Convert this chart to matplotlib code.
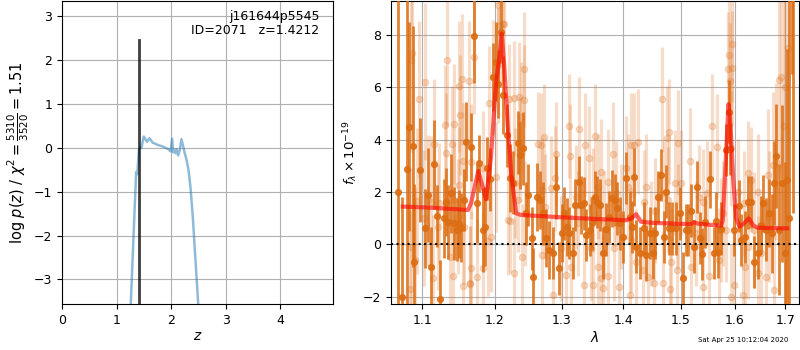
import numpy as np
import matplotlib
matplotlib.use("Agg")
import matplotlib.pyplot as plt
from matplotlib.ticker import FixedLocator, FixedFormatter, NullLocator

# ---------------- p(z) panel data ----------------
pz_z = [1.25, 1.36, 1.38, 1.41, 1.43, 1.46, 1.48, 1.50, 1.53, 1.56, 1.60, 1.63,
        1.66, 1.70, 1.75, 1.80, 1.85, 1.90, 1.95, 1.99, 2.02, 2.04, 2.06, 2.08,
        2.10, 2.13, 2.16, 2.19, 2.22, 2.25, 2.28, 2.32, 2.36, 2.40, 2.45, 2.51]
pz_logp = [-3.9, -0.55, -0.60, -0.05, 0.02, 0.00, 0.15, 0.26, 0.20, 0.14, 0.22, 0.18,
           0.12, 0.10, 0.07, 0.05, 0.03, 0.00, -0.03, -0.08, 0.21, -0.10, -0.05, -0.12,
           -0.03, -0.17, -0.05, 0.20, 0.05, -0.12, -0.25, -0.50, -0.95, -1.6, -2.6, -3.8]
z_best = 1.4212
z_best_top = 2.45
title_lines = ["j161644p5545", "ID=2071   z=1.4212"]

# ---------------- spectrum data ----------------
dark_wave = [1.0677, 1.0733, 1.0794, 1.0828, 1.0872, 1.0893, 1.0969, 1.1038, 1.1078, 1.1118,
             1.1158, 1.1190, 1.1238, 1.1292, 1.1315, 1.1346, 1.1382, 1.1427, 1.1460, 1.1491,
             1.1528, 1.1564, 1.1597, 1.1656, 1.1703, 1.1741, 1.1777, 1.1825, 1.1858, 1.1882,
             1.1929, 1.1968, 1.2011, 1.2049, 1.2088, 1.2121, 1.2180, 1.2219, 1.2259, 1.2342,
             1.2367, 1.2417, 1.2457, 1.2492, 1.2543, 1.2568, 1.2619, 1.2670, 1.2720, 1.2761,
             1.2812, 1.2865, 1.2917, 1.2953, 1.3007, 1.3043, 1.3085, 1.3122, 1.3174, 1.3217,
             1.3269, 1.3312, 1.3350, 1.3393, 1.3446, 1.3485, 1.3527, 1.3566, 1.3620, 1.3664,
             1.3713, 1.3756, 1.3812, 1.3856, 1.3896, 1.3951, 1.3996, 1.4051, 1.4119, 1.4148,
             1.4175, 1.4221, 1.4277, 1.4346, 1.4393, 1.4445, 1.4502, 1.4537, 1.4590, 1.4637,
             1.4696, 1.4726, 1.4785, 1.4846, 1.4905, 1.4984, 1.5039, 1.5088, 1.5130, 1.5180,
             1.5240, 1.5290, 1.5348, 1.5385, 1.5440, 1.5533, 1.5614, 1.5646, 1.5683, 1.5740,
             1.5834, 1.5898, 1.5917, 1.5993, 1.6089, 1.6122, 1.6205, 1.6252, 1.6317, 1.6370,
             1.6450, 1.6514, 1.6548, 1.6614, 1.6679, 1.6734, 1.6780, 1.6821, 1.6880, 1.6929,
             1.6997, 1.7038, 1.7085, 1.7135, 1.7160]
dark_flux = [2.0, -2.0, 2.86, 4.49, 3.75, -0.69, 2.84, 0.61, 1.88, -0.85,
             3.06, 1.08, -2.10, 0.99, 1.60, 0.85, 1.95, 0.80, 0.55, 0.77,
             0.64, 1.69, 3.92, 3.73, 7.95, 1.56, 3.09, 0.55, 0.67, 2.90,
             2.49, 6.40, 6.97, 6.12, 8.11, 5.70, 4.17, 2.54, 2.35, 3.88,
             3.41, 3.66, 1.18, 1.88, 0.23, -1.26, 1.81, 1.69, 1.18, 0.23,
             -0.22, -0.34, 2.18, -0.92, 0.42, 1.18, 0.67, 0.42, -0.34, 1.50,
             2.39, 1.50, 1.56, 0.36, 0.55, 0.80, 1.81, 1.62, 1.50, -0.34,
             0.57, 1.05, 1.75, 1.69, 1.37, 0.80, 0.29, 2.52, 1.05, 0.67,
             2.58, -0.09, -0.34, 0.61, -0.41, 0.42, -0.34, 0.42, 1.81, 2.64,
             0.29, 2.01, 0.61, 0.61, 0.61, 1.18, -1.30, 0.55, 0.55, 1.29,
             -0.09, 2.18, 0.23, -0.37, 0.85, 2.48, -0.34, 0.90, -0.30, 0.60,
             3.60, 5.06, 3.63, 0.55, 1.46, 0.16, 0.29, 1.60, 1.62, -0.67,
             -0.34, 0.74, 1.56, 0.55, 1.18, 0.42, 2.33, 3.37, 0.55, 2.33,
             -0.34, 2.46, 1.0, 14.0, 10.0]
dark_err = [9.0, 3.8, 8.0, 4.0, 4.6, 3.0, 2.0, 1.5, 1.8, 1.5,
            1.7, 1.2, 1.5, 1.5, 1.3, 1.4, 1.5, 1.4, 1.2, 1.3,
            1.3, 1.2, 1.5, 1.3, 1.8, 1.5, 1.1, 1.6, 1.5, 1.2,
            1.2, 1.3, 1.5, 1.3, 1.2, 1.5, 1.2, 1.3, 1.2, 1.2,
            1.3, 1.4, 1.2, 1.2, 1.2, 1.1, 1.3, 1.1, 1.2, 1.1,
            1.1, 1.0, 1.2, 1.0, 1.1, 1.0, 1.1, 1.0, 1.0, 1.0,
            1.0, 1.1, 1.0, 1.0, 1.0, 1.0, 1.0, 1.0, 1.0, 1.0,
            1.0, 1.0, 1.1, 1.0, 1.0, 1.0, 1.0, 1.0, 1.0, 1.0,
            1.1, 1.0, 1.0, 1.0, 1.0, 1.0, 1.0, 1.0, 1.0, 1.0,
            1.0, 1.0, 1.0, 1.0, 1.0, 1.0, 1.0, 1.0, 1.0, 1.0,
            1.0, 1.0, 1.0, 1.0, 1.0, 1.1, 1.0, 1.1, 1.0, 1.0,
            1.0, 1.2, 1.0, 1.0, 1.0, 1.0, 1.0, 1.0, 1.0, 1.0,
            1.0, 1.1, 1.1, 1.2, 1.3, 1.5, 1.6, 2.0, 2.5, 3.0,
            3.5, 5.0, 12.0, 7.5, 8.8]

light_wave = [1.0856, 1.0869, 1.1038, 1.1333, 1.0961, 1.1533, 1.1488, 1.1637, 1.1512, 1.1430,
              1.1304, 1.1398, 1.1159, 1.1317, 1.1543, 1.1497, 1.1071, 1.1115, 1.0930, 1.1227,
              1.1422, 1.1026, 1.1206, 1.1475, 1.1557, 1.0848, 1.1375, 1.1137, 1.1417, 1.1551,
              1.0843, 1.1640, 1.0900,
              1.2041, 1.2113, 1.2078, 1.2136, 1.1707, 1.2045, 1.2422, 1.1969, 1.1920, 1.2284,
              1.2357, 1.2210, 1.2431, 1.2382, 1.2733, 1.2683, 1.2633, 1.2372, 1.1661, 1.1826,
              1.2016, 1.2290, 1.2333, 1.2187, 1.2224, 1.2440, 1.2698, 1.2835, 1.2740, 1.1944,
              1.1898, 1.2390, 1.2690, 1.1655, 1.1830, 1.2280, 1.1739, 1.1650,
              1.3121, 1.3279, 1.2912, 1.3136, 1.3375, 1.3537, 1.3439, 1.3629, 1.3821, 1.4127,
              1.4043, 1.2897, 1.3227, 1.3495, 1.3576, 1.3741, 1.3877, 1.4071, 1.3254, 1.3685,
              1.3960, 1.2990, 1.3467, 1.3849, 1.3148, 1.3580, 1.3635, 1.3069, 1.3359, 1.3498,
              1.3745, 1.3932, 1.3657, 1.2862, 1.4112,
              1.4659, 1.4753, 1.4793, 1.4242, 1.4175, 1.4943, 1.5565, 1.5170, 1.4901, 1.5002,
              1.4705, 1.5335, 1.4385, 1.4356, 1.4765, 1.5397, 1.5477, 1.4533, 1.4950, 1.4476,
              1.5275, 1.4129, 1.4214, 1.4823, 1.5175, 1.4926, 1.4327, 1.4676, 1.4520, 1.4414,
              1.4811, 1.5400, 1.5508,
              1.5943, 1.5897, 1.5866, 1.5950, 1.5917, 1.6914, 1.6880, 1.5664, 1.5930, 1.6814,
              1.6748, 1.6648, 1.6252, 1.6317, 1.6058, 1.6448, 1.6187, 1.5834, 1.5740, 1.5772,
              1.6679, 1.6382, 1.6265, 1.6514, 1.5708, 1.6190, 1.6450, 1.6614, 1.5992, 1.6780,
              1.6155, 1.5935, 1.7000, 1.7060, 1.6970]
light_flux = [7.03, 7.29, 6.20, 7.03, 5.53, 6.30, 6.04, 6.23, 4.94, 4.59,
              4.55, 3.83, 3.83, 3.47, 3.19, 2.26, 1.69, 1.62, 1.65, 1.56,
              1.69, 1.00, 0.67, 1.05, 0.67, -0.09, -0.47, -1.30, -1.21, -1.59,
              -1.72, -1.49, -0.60,
              9.13, 8.43, 8.37, 8.40, 7.16, 6.84, 6.68, 6.37, 5.38, 5.57,
              5.64, 5.53, 5.50, 4.87, 4.11, 3.79, 3.83, 3.63, 3.15, 2.90,
              2.58, 2.33, 1.69, 0.93, 0.90, 1.18, 2.07, 2.14, 1.43, 0.29,
              0.14, -0.47, -0.41, -0.92, -0.92, -1.11, -1.23, -1.52,
              4.52, 4.39, 3.45, 3.37, 3.79, 4.13, 3.28, 2.77, 3.45, 3.79,
              2.90, 2.52, 1.81, 1.69, 2.20, 2.39, 1.94, 2.20, 0.80, 0.80,
              1.05, -0.15, -0.15, -0.15, -0.85, -0.85, -1.30, -1.17, -1.55, -1.55,
              -1.21, -1.64, -1.68, -1.94, -1.94,
              5.53, 4.05, 4.30, 3.92, 3.79, 3.88, 4.52, 3.19, 2.35, 2.35,
              1.94, 1.81, 2.20, 1.60, 1.70, 1.62, 1.94, 1.29, 1.05, 0.42,
              0.42, 0.16, -0.66, -0.66, -0.85, -1.00, -1.00, -1.49, -1.47, -1.23,
              -1.71, -1.62, -1.21,
              7.65, 7.23, 6.68, 6.72, 6.24, 6.40, 6.26, 3.73, 3.66, 3.15,
              3.03, 2.65, 2.72, 2.46, 2.01, 2.01, 1.56, 0.55, 0.55, 1.18,
              1.05, 0.55, -0.09, -0.34, -0.60, -0.85, -1.11, -1.23, -1.55, -1.74,
              -1.94, -2.00, 6.0, 7.5, 4.5]
light_err = [3.5, 3.5, 3.0, 2.5, 3.0, 2.5, 2.5, 2.3, 2.3, 2.3,
             2.3, 2.2, 2.5, 2.3, 2.2, 2.2, 2.5, 2.5, 2.8, 2.3,
             2.2, 2.6, 2.4, 2.2, 2.2, 3.0, 2.2, 2.4, 2.2, 2.2,
             3.0, 2.2, 2.8,
             2.3, 2.2, 2.2, 2.2, 2.2, 2.2, 2.2, 2.2, 2.2, 2.2,
             2.1, 2.1, 2.1, 2.1, 2.0, 2.0, 2.0, 2.0, 2.2, 2.2,
             2.1, 2.1, 2.0, 2.1, 2.0, 2.0, 2.0, 2.0, 2.0, 2.1,
             2.1, 2.0, 2.0, 2.2, 2.1, 2.1, 2.2, 2.2,
             2.0, 2.0, 2.0, 2.0, 2.0, 2.0, 2.0, 2.0, 2.0, 2.0,
             2.0, 2.0, 2.0, 2.0, 2.0, 2.0, 2.0, 2.0, 2.0, 2.0,
             2.0, 2.0, 2.0, 2.0, 2.0, 2.0, 2.0, 2.0, 2.0, 2.0,
             2.0, 2.0, 2.0, 2.0, 2.0,
             2.0, 2.0, 2.0, 2.0, 2.0, 2.0, 2.0, 2.0, 2.0, 2.0,
             2.0, 2.0, 2.0, 2.0, 2.0, 2.0, 2.0, 2.0, 2.0, 2.0,
             2.0, 2.0, 2.0, 2.0, 2.0, 2.0, 2.0, 2.0, 2.0, 2.0,
             2.0, 2.0, 2.0,
             2.2, 2.2, 2.2, 2.2, 2.2, 3.5, 3.5, 2.0, 2.2, 3.0,
             2.8, 2.5, 2.0, 2.0, 2.0, 2.2, 2.0, 2.0, 2.0, 2.0,
             2.5, 2.2, 2.0, 2.2, 2.0, 2.0, 2.2, 2.4, 2.0, 3.0,
             2.0, 2.0, 5.0, 5.0, 5.0]

model_wave = [1.0745, 1.1100, 1.1500, 1.1620, 1.1661, 1.1764, 1.1873, 1.1944, 1.2016, 1.2063,
              1.2098, 1.2136, 1.2187, 1.2236, 1.2310, 1.2382, 1.3000, 1.3600, 1.4050, 1.4127,
              1.4214, 1.4299, 1.4500, 1.5000, 1.5180, 1.5240, 1.5300, 1.5600, 1.5740, 1.5770,
              1.5820, 1.5880, 1.5920, 1.5970, 1.6030, 1.6090, 1.6180, 1.6271, 1.6360, 1.6450,
              1.7038]
model_flux = [1.44, 1.40, 1.33, 1.31, 1.57, 2.80, 1.72, 3.34, 6.14, 7.10,
              8.05, 6.78, 4.49, 2.71, 1.18, 1.12, 1.03, 0.96, 0.92, 0.98,
              1.15, 0.86, 0.82, 0.78, 0.77, 0.85, 0.79, 0.73, 0.71, 0.90,
              2.80, 5.35, 4.50, 2.50, 1.00, 0.67, 0.80, 0.99, 0.72, 0.63,
              0.61]

wave_ticks = [1.1, 1.2, 1.3, 1.4, 1.5, 1.6, 1.7]
wave_tick_labels = ["1.1", "1.2", "1.3", "1.4", "1.5", "1.6", "1.7"]
flux_ticks = [-2, 0, 2, 4, 6, 8]

# ---------------- figure ----------------
plt.rcParams['font.size'] = 9
fig = plt.figure(figsize=(8, 3.5), dpi=100)

ax1 = fig.add_axes([62/800, 46/350, 271/800, 303/350])
ax1.plot(pz_z, pz_logp, color='C0', alpha=0.5, lw=1.8)
ax1.set_xlim(0, 4.97)
ax1.set_ylim(-3.56, 3.35)
ax1.plot([z_best, z_best], [-3.56, z_best_top], color='k', alpha=0.75, lw=2)
ax1.set_xticks([0, 1, 2, 3, 4])
ax1.set_yticks([-3, -2, -1, 0, 1, 2, 3])
ax1.tick_params(labelsize=9)
ax1.grid(True, color='#b0b0b0', lw=0.8)
ax1.set_axisbelow(True)
ax1.set_xlabel('$z$', labelpad=2, fontsize=10)
ax1.set_ylabel(r'log $p(z)$ / $\chi^2=\frac{5310}{3520}=1.51$', labelpad=2, fontsize=10.5)
ax1.text(0.95, 0.97, title_lines[0] + '\n' + title_lines[1], transform=ax1.transAxes,
         ha='right', va='top', fontsize=9, linespacing=1.05)

ax2 = fig.add_axes([391/800, 46/350, 408/800, 303/350])
ax2.set_xscale('log')
ax2.errorbar(light_wave, light_flux, yerr=light_err, fmt='o', color='#e0782a',
             alpha=0.25, markersize=4.5, elinewidth=2.3, capsize=0, zorder=2)
ax2.errorbar(dark_wave, dark_flux, yerr=dark_err, fmt='o', color='#dc6d12',
             alpha=0.85, markersize=4.2, elinewidth=2.0, capsize=0, zorder=3)
ax2.plot(model_wave, model_flux, color='red', alpha=0.6, lw=3, zorder=4)
ax2.axhline(0, color='k', ls=':', lw=1.5, zorder=5)
ax2.set_xlim(1.0594, 1.7282)
ax2.set_ylim(-2.28, 9.29)
ax2.xaxis.set_major_locator(FixedLocator(wave_ticks))
ax2.xaxis.set_major_formatter(FixedFormatter(wave_tick_labels))
ax2.xaxis.set_minor_locator(NullLocator())
ax2.set_yticks(flux_ticks)
ax2.tick_params(labelsize=9)
ax2.grid(True, color='#b0b0b0', lw=0.8)
ax2.set_axisbelow(True)
ax2.set_xlabel(r'$\lambda$', labelpad=2, fontsize=10)
ax2.set_ylabel(r'$f_\lambda\times10^{-19}$', labelpad=2, fontsize=9.5)

fig.text(788/800, 1 - 340/350, 'Sat Apr 25 10:12:04 2020', ha='right', va='center', fontsize=5)

fig.savefig('out.png', dpi=100)
